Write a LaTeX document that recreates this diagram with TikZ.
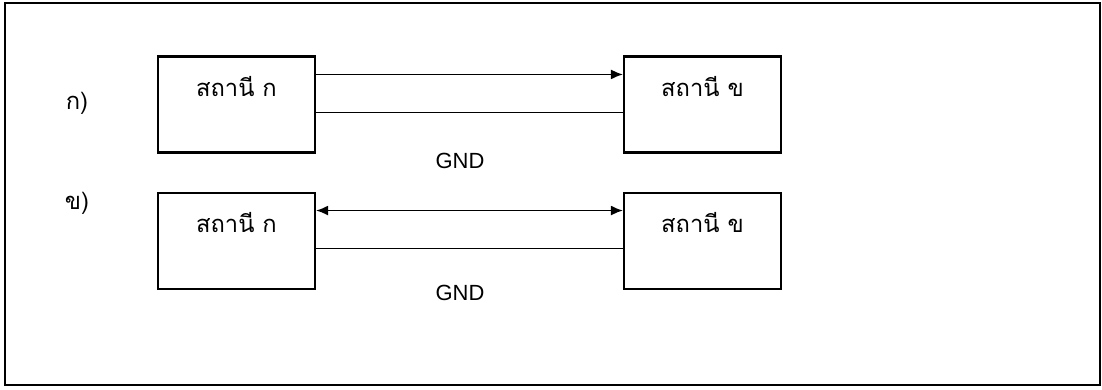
\documentclass[tikz,border=0pt]{standalone}
\usepackage{fontspec}
\setmainfont{Liberation Sans}
\newfontfamily\thaifont[Script=Thai]{Loma}
\usetikzlibrary{arrows.meta,positioning}
\tikzset{
  stn/.style={draw,line width=1.2pt,minimum width=3.14cm,minimum height=1.92cm,inner sep=0pt},
  stnname/.style={font=\thaifont\fontsize{13.5}{15}\selectfont},
  part/.style={font=\thaifont\fontsize{13.5}{15}\selectfont},
  gnd/.style={font=\fontsize{12.5}{14}\selectfont},
  wire/.style={line width=1pt},
  sig/.style={wire,-{Latex[length=2.4mm,width=2mm]}},
  sigboth/.style={wire,{Latex[length=2.4mm,width=2mm]}-{Latex[length=2.4mm,width=2mm]}},
}
\begin{document}
\begin{tikzpicture}[x=0.02cm,y=-0.02cm]
  \useasboundingbox (0,0) rectangle (1102,389);
  \draw[line width=1.6pt] (5,3) rectangle (1100,385);
  % stations
  \node[stn] (a1) at (236.5,104.5) {};
  \node[stn,right=6.14cm of a1] (b1) {};
  \node[stn,below=0.76cm of a1] (a2) {};
  \node[stn,right=6.14cm of a2] (b2) {};
  \foreach \n/\t in {a1/ก,b1/ข,a2/ก,b2/ข}
    \node[stnname] (\n t) at ([yshift=-0.62cm]\n.north) {สถานี \t};
  \node[part] (p1) at (77,103) {ก)};
  \node[part] (p2) at (77,203) {ข)};
  % lines
  \draw[sig] ([yshift=-0.38cm]a1.north east) -- ([yshift=-0.38cm]b1.north west);
  \draw[wire] ([yshift=-1.14cm]a1.north east) -- ([yshift=-1.14cm]b1.north west);
  \draw[sigboth] ([yshift=-0.38cm]a2.north east) -- ([yshift=-0.38cm]b2.north west);
  \draw[wire] ([yshift=-1.14cm]a2.north east) -- ([yshift=-1.14cm]b2.north west);
  \node[gnd] (g1) at (460,161) {GND};
  \node[gnd] (g2) at (460,293) {GND};
\end{tikzpicture}
\end{document}
